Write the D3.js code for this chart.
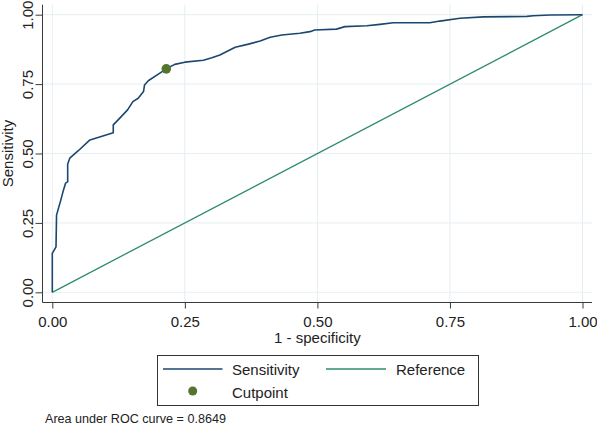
<!DOCTYPE html>
<html>
<head>
<meta charset="utf-8">
<script src="https://cdn.jsdelivr.net/npm/d3@7"></script>
<style>
  html, body { margin: 0; padding: 0; background: #ffffff; }
  svg { display: block; font-family: "Liberation Sans", Arial, sans-serif; }
</style>
</head>
<body>
<svg id="chart" width="597" height="425"></svg>
<script>
// ---- data ----
const fpr = [0, 0, 0.007, 0.008, 0.016, 0.021, 0.025, 0.029, 0.029, 0.033, 0.049, 0.071, 0.115, 0.115, 0.121, 0.142, 0.152, 0.162, 0.172, 0.174, 0.181, 0.200, 0.215, 0.231, 0.250, 0.285, 0.301, 0.316, 0.345, 0.370, 0.392, 0.411, 0.433, 0.467, 0.486, 0.495, 0.536, 0.552, 0.593, 0.618, 0.643, 0.712, 0.731, 0.769, 0.813, 0.895, 0.907, 0.939, 1];
const tpr = [0, 0.140, 0.164, 0.278, 0.332, 0.368, 0.393, 0.398, 0.462, 0.483, 0.510, 0.549, 0.575, 0.603, 0.615, 0.657, 0.687, 0.699, 0.723, 0.747, 0.762, 0.786, 0.805, 0.821, 0.829, 0.836, 0.845, 0.855, 0.883, 0.894, 0.905, 0.919, 0.927, 0.933, 0.939, 0.945, 0.948, 0.957, 0.960, 0.965, 0.971, 0.971, 0.977, 0.987, 0.992, 0.994, 0.996, 0.999, 1];
const refX = [0, 1];
const refY = [0, 1];
const cutpoint = [0.215, 0.805];
const tickValues = [0, 0.25, 0.5, 0.75, 1];
const xTitle = "1 - specificity";
const yTitle = "Sensitivity";
const legendLabels = ["Sensitivity", "Reference", "Cutpoint"];
const note = "Area under ROC curve = 0.8649";

// ---- styles ----
const navy = "#1a476f", teal = "#2f8a72", green = "#55752f", grid = "#e6eef2", axisCol = "#3a3a3a";

const svg = d3.select("#chart");
const x = d3.scaleLinear().domain([0, 1]).range([52.3, 582.5]);
const y = d3.scaleLinear().domain([0, 1]).range([292.3, 14.7]);
const plotL = 42.5, plotR = 592, plotT = 4.7, plotB = 302.5;

// gridlines
svg.append("g").selectAll("line").data(tickValues).join("line")
  .attr("x1", plotL).attr("x2", plotR)
  .attr("y1", d => y(d)).attr("y2", d => y(d))
  .attr("stroke", grid).attr("stroke-width", 1);
svg.append("g").selectAll("line").data(tickValues).join("line")
  .attr("y1", plotT).attr("y2", plotB)
  .attr("x1", d => x(d)).attr("x2", d => x(d))
  .attr("stroke", grid).attr("stroke-width", 1);

// axes
const fmt = d3.format(".2f");
const xAxis = svg.append("g").attr("transform", `translate(0,${plotB})`)
  .call(d3.axisBottom(x).tickValues(tickValues).tickFormat(fmt).tickSize(6).tickSizeOuter(0).tickPadding(10));
xAxis.select(".domain").remove();
xAxis.selectAll("line").attr("stroke", axisCol);
xAxis.selectAll("text").attr("font-size", "15px").attr("fill", "#222").attr("font-family", "Liberation Sans, Arial, sans-serif")
  .attr("dy", null).attr("y", 24.2);

const yAxis = svg.append("g").attr("transform", `translate(${plotL},0)`)
  .call(d3.axisLeft(y).tickValues(tickValues).tickFormat(fmt).tickSize(7).tickSizeOuter(0));
yAxis.select(".domain").remove();
yAxis.selectAll("line").attr("stroke", axisCol);
yAxis.selectAll("text").attr("font-size", "15px").attr("fill", "#222").attr("font-family", "Liberation Sans, Arial, sans-serif")
  .attr("x", 0).attr("dy", null).attr("y", -9.2)
  .attr("text-anchor", "middle").attr("transform", "rotate(-90)");

svg.append("line").attr("x1", plotL).attr("x2", plotL).attr("y1", plotT).attr("y2", plotB)
  .attr("stroke", axisCol).attr("stroke-width", 1);
svg.append("line").attr("x1", plotL).attr("x2", plotR).attr("y1", plotB).attr("y2", plotB)
  .attr("stroke", axisCol).attr("stroke-width", 1);

// titles
svg.append("text").attr("x", (x(0) + x(1)) / 2).attr("y", 342.5).attr("text-anchor", "middle")
  .attr("font-size", "15px").attr("fill", "#222").text(xTitle);
svg.append("text").attr("transform", `translate(12.5,${(y(0) + y(1)) / 2}) rotate(-90)`)
  .attr("text-anchor", "middle").attr("font-size", "15px").attr("fill", "#222").text(yTitle);

// reference line
const line = d3.line().x(d => x(d[0])).y(d => y(d[1]));
svg.append("path").datum(refX.map((v, i) => [v, refY[i]])).attr("d", line)
  .attr("fill", "none").attr("stroke", teal).attr("stroke-width", 1.3);

// ROC curve
svg.append("path").datum(fpr.map((v, i) => [v, tpr[i]])).attr("d", line)
  .attr("fill", "none").attr("stroke", navy).attr("stroke-width", 1.6).attr("stroke-linejoin", "round");

// cutpoint
svg.append("circle").attr("cx", x(cutpoint[0])).attr("cy", y(cutpoint[1])).attr("r", 4.8).attr("fill", green);

// legend
const lg = svg.append("g");
lg.append("rect").attr("x", 157.5).attr("y", 355.5).attr("width", 321).attr("height", 50)
  .attr("fill", "#fff").attr("stroke", "#333").attr("stroke-width", 1);
lg.append("line").attr("x1", 163).attr("x2", 222.5).attr("y1", 369).attr("y2", 369).attr("stroke", navy).attr("stroke-width", 1.6);
lg.append("text").attr("x", 232).attr("y", 375).attr("font-size", "15px").attr("fill", "#222").text(legendLabels[0]);
lg.append("line").attr("x1", 326).attr("x2", 386).attr("y1", 369).attr("y2", 369).attr("stroke", teal).attr("stroke-width", 1.3);
lg.append("text").attr("x", 396).attr("y", 375).attr("font-size", "15px").attr("fill", "#222").text(legendLabels[1]);
lg.append("circle").attr("cx", 192.7).attr("cy", 391).attr("r", 4.5).attr("fill", green);
lg.append("text").attr("x", 232).attr("y", 397.5).attr("font-size", "15px").attr("fill", "#222").text(legendLabels[2]);

// note
svg.append("text").attr("x", 45).attr("y", 423).attr("font-size", "12.6px").attr("fill", "#222").text(note);
</script>
</body>
</html>
